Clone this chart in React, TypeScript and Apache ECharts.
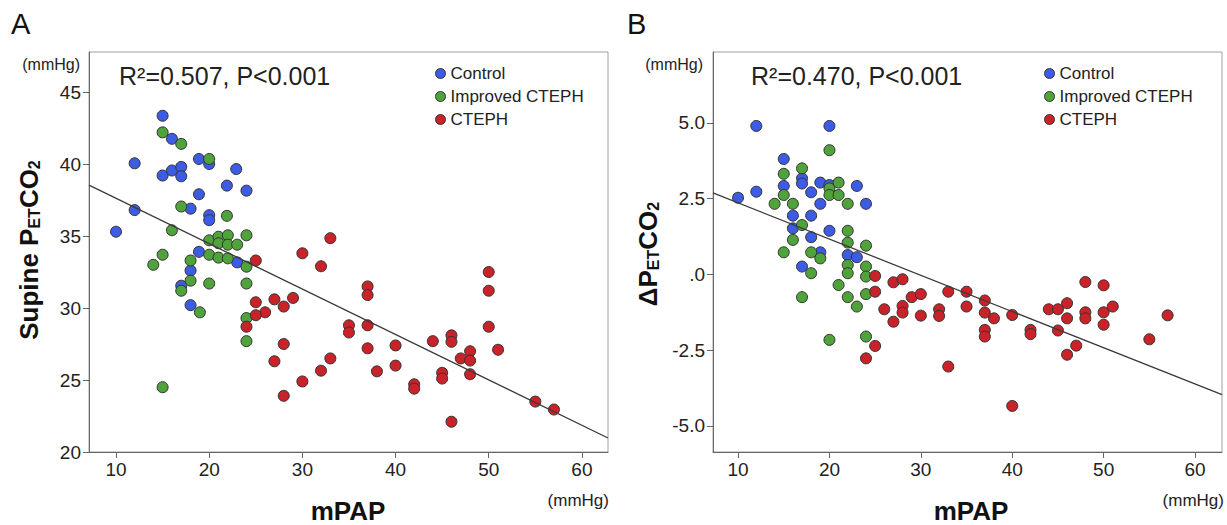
import { useEffect, useRef } from "react";
import * as echarts from "echarts";

const FONT = "'Liberation Sans', Arial, Helvetica, sans-serif";

// ---------- Panel A: Supine PETCO2 vs mPAP ----------
const controlA = [
  [15, 43.35], [16, 41.75], [12, 40.05], [18.9, 40.35], [20, 40.0], [22.9, 39.65],
  [15, 39.2], [16, 39.55], [17, 39.8], [17, 39.15], [21.9, 38.5], [24, 38.15],
  [18.9, 37.9], [18, 36.9], [12, 36.8], [20, 36.45], [20, 36.1], [10, 35.3],
  [18.9, 33.9], [23, 33.17], [18, 32.6], [17, 31.55], [18, 30.2],
];
const improvedA = [
  [15, 42.2], [17, 41.4], [20, 40.35], [17, 37.05], [21.9, 36.4], [16, 35.4],
  [24, 35.05], [20, 34.7], [21, 34.95], [22, 35.05], [21, 34.5], [22, 34.4],
  [23, 34.4], [15, 33.7], [14, 33.0], [18, 33.3], [20, 33.7], [21, 33.5],
  [22, 33.45], [24, 32.87], [18, 31.9], [17, 31.2], [20, 31.7], [24, 31.7],
  [19, 29.7], [24, 29.3], [24, 27.7], [15, 24.5],
];
const ctephA = [
  [33, 34.85], [25, 33.3], [30, 33.8], [32, 32.9], [37, 31.5], [37, 30.9],
  [25, 30.4], [27, 30.6], [29, 30.7], [28, 30.1], [26, 29.7], [25, 29.5],
  [24, 28.7], [35, 28.8], [35, 28.3], [37, 28.8], [37, 27.2], [28, 27.5],
  [27, 26.3], [33, 26.5], [32, 25.65], [38, 25.6], [30, 24.9], [28, 23.9],
  [50, 32.5], [50, 31.2], [50, 28.7], [40, 27.4], [40, 26.0], [42, 24.7],
  [42, 24.4], [44, 27.7], [46, 28.1], [46, 27.65], [45, 25.5], [45, 25.1],
  [47, 26.5], [48, 27.0], [48, 26.35], [48, 25.4], [51, 27.1], [46, 22.1],
  [55, 23.5], [57, 22.95],
];
const regA = [[7.1, 38.54], [62.8, 20.97]];

// ---------- Panel B: ΔPETCO2 vs mPAP ----------
const controlB = [
  [12, 4.9], [20, 4.9], [15, 3.81], [17, 3.17], [17, 3.0], [15, 2.92], [19, 3.03],
  [20, 2.95], [23, 2.92], [18, 2.71], [10, 2.53], [12, 2.73], [19, 2.33], [24, 2.33],
  [16, 1.94], [18, 1.94], [16, 1.52], [18, 1.23], [20, 1.44], [19, 0.73], [22, 0.64],
  [23, 0.57], [17, 0.26],
];
const improvedB = [
  [20, 4.1], [17, 3.5], [15, 3.32], [20, 2.84], [20, 2.62], [21, 3.03], [21, 2.62],
  [15, 2.62], [14, 2.33], [16, 2.33], [22, 2.33], [17, 1.63], [22, 1.44], [16, 1.14],
  [22, 1.05], [24, 0.95], [15, 0.73], [18, 0.73], [19, 0.53], [22, 0.31], [18, 0.04],
  [22, 0.04], [24, 0.26], [24, -0.07], [21, -0.35], [17, -0.75], [22, -0.75],
  [24, -0.65], [23, -1.06], [20, -2.16], [24, -2.05],
];
const ctephB = [
  [25, -0.05], [27, -0.26], [28, -0.16], [25, -0.57], [26, -1.15], [29, -0.75],
  [30, -0.65], [28, -1.04], [28, -1.26], [27, -1.56], [30, -1.36], [32, -1.15],
  [32, -1.37], [33, -0.57], [35, -0.57], [35, -1.06], [37, -0.86], [37, -1.26],
  [37, -1.83], [37, -2.05], [25, -2.36], [24, -2.77], [33, -3.04], [38, -1.45],
  [40, -1.34], [42, -1.83], [42, -1.97], [44, -1.15], [45, -1.15], [46, -0.95],
  [46, -1.45], [45, -1.85], [48, -0.25], [48, -1.25], [48, -1.45], [50, -0.36],
  [50, -1.25], [50, -1.66], [51, -1.06], [47, -2.35], [46, -2.65], [55, -2.14],
  [57, -1.35], [40, -4.34],
];
const regB = [[7.26, 2.69], [62.95, -3.97]];

// ---------- Ticks, labels ----------
const xTicks = [10, 20, 30, 40, 50, 60];
const yTicksA = [20, 25, 30, 35, 40, 45];
const yTicksB = [-5, -2.5, 0, 2.5, 5];
const groupNames = ["Control", "Improved CTEPH", "CTEPH"];
const statA = "R²=0.507, P<0.001";
const statB = "R²=0.470, P<0.001";

const COLORS = ["#3d5ce6", "#4fa33a", "#c92228"];

export default function App() {
  const ref = useRef<HTMLDivElement>(null);

  useEffect(() => {
    if (!ref.current) return;
    const chart = echarts.init(ref.current, null, { renderer: "svg" });

    const axisColor = "#666";
    const makeX = (gridIndex: number, min: number, max: number) => ({
      type: "value",
      gridIndex,
      min,
      max,
      axisLine: { show: true, onZero: false, lineStyle: { color: axisColor, width: 1 } },
      axisTick: { show: true, customValues: xTicks, length: 6, lineStyle: { color: axisColor } },
      axisLabel: { customValues: xTicks, fontSize: 19, color: "#222", margin: 8, fontFamily: FONT },
      splitLine: { show: false },
    });
    const makeY = (gridIndex: number, min: number, max: number, ticks: number[], fmt: (v: number) => string) => ({
      type: "value",
      gridIndex,
      min,
      max,
      axisLine: { show: true, onZero: false, lineStyle: { color: axisColor, width: 1 } },
      axisTick: { show: true, customValues: ticks, length: 6, lineStyle: { color: axisColor } },
      axisLabel: { customValues: ticks, fontSize: 19, color: "#222", margin: 8, fontFamily: FONT, formatter: fmt },
      splitLine: { show: false },
    });

    const scatter = (name: string, data: number[][], idx: number, color: string) => ({
      type: "scatter",
      name,
      data,
      xAxisIndex: idx,
      yAxisIndex: idx,
      symbol: "circle",
      symbolSize: 11,
      itemStyle: { color, borderColor: "#333", borderWidth: 1, opacity: 1 },
      z: 2,
    });
    const reg = (data: number[][], idx: number) => ({
      type: "line",
      data,
      xAxisIndex: idx,
      yAxisIndex: idx,
      symbol: "none",
      silent: true,
      lineStyle: { color: "#3a3a3a", width: 1.3 },
      z: 5,
    });

    const legendBase = {
      data: groupNames,
      orient: "vertical",
      top: 65,
      itemWidth: 10,
      itemHeight: 10,
      itemGap: 6,
      padding: 0,
      icon: "circle",
      selectedMode: false,
      itemStyle: { borderColor: "#333", borderWidth: 1 },
      textStyle: { fontSize: 17, color: "#222", fontFamily: FONT },
    };

    const txt = (text: string, x: number, y: number, opts: any = {}) => ({
      type: "text",
      x,
      y,
      silent: true,
      style: {
        text,
        fontFamily: FONT,
        fontSize: opts.fontSize ?? 17,
        fontWeight: opts.fontWeight ?? "normal",
        fill: opts.fill ?? "#222",
        align: opts.align ?? "left",
        verticalAlign: "middle",
      },
    });

    const titleRich = {
      m: { fontSize: 26, fontWeight: "bold", fontFamily: FONT, lineHeight: 26, verticalAlign: "bottom", fill: "#111" },
      s: { fontSize: 16, fontWeight: "bold", fontFamily: FONT, lineHeight: 8, verticalAlign: "bottom", fill: "#111" },
    };
    const yTitle = (text: string, x: number, y: number) => ({
      type: "text",
      x,
      y,
      rotation: Math.PI / 2,
      silent: true,
      style: {
        text,
        rich: titleRich,
        fill: "#111",
        align: "center",
        verticalAlign: "middle",
        fontFamily: FONT,
      },
    });

    chart.setOption({
      animation: false,
      backgroundColor: "#fff",
      grid: [
        { left: 89, top: 52, width: 519, height: 400, show: true, borderColor: "#a0a0a0", borderWidth: 1, backgroundColor: "transparent" },
        { left: 713, top: 52, width: 509, height: 400, show: true, borderColor: "#a0a0a0", borderWidth: 1, backgroundColor: "transparent" },
      ],
      xAxis: [makeX(0, 7.1, 62.8), makeX(1, 7.26, 62.95)],
      yAxis: [
        makeY(0, 20, 47.78, yTicksA, (v: number) => String(v)),
        makeY(1, -5.86, 7.34, yTicksB, (v: number) => (v === 0 ? ".0" : v.toFixed(1))),
      ],
      legend: [
        { ...legendBase, left: 435 },
        { ...legendBase, left: 1044 },
      ],
      series: [
        scatter(groupNames[0], controlA, 0, COLORS[0]),
        scatter(groupNames[1], improvedA, 0, COLORS[1]),
        scatter(groupNames[2], ctephA, 0, COLORS[2]),
        reg(regA, 0),
        scatter(groupNames[0], controlB, 1, COLORS[0]),
        scatter(groupNames[1], improvedB, 1, COLORS[1]),
        scatter(groupNames[2], ctephB, 1, COLORS[2]),
        reg(regB, 1),
      ],
      graphic: [
        txt("A", 11, 24, { fontSize: 29, fill: "#111" }),
        txt("B", 627, 24, { fontSize: 29, fill: "#111" }),
        txt(statA, 119, 76, { fontSize: 25 }),
        txt(statB, 751, 76, { fontSize: 25 }),
        txt("(mmHg)", 80, 64, { fontSize: 16, align: "right" }),
        txt("(mmHg)", 703, 64, { fontSize: 16, align: "right" }),
        txt("(mmHg)", 609, 500, { fontSize: 17, align: "right" }),
        txt("(mmHg)", 1224, 500, { fontSize: 17, align: "right" }),
        txt("mPAP", 348, 511, { fontSize: 26, fontWeight: "bold", align: "center", fill: "#111" }),
        txt("mPAP", 971, 511, { fontSize: 26, fontWeight: "bold", align: "center", fill: "#111" }),
        yTitle("{m|Supine P}{s|ET}{m|CO}{s|2}", 29, 250),
        yTitle("{m|ΔP}{s|ET}{m|CO}{s|2}", 648, 254),
      ],
    });

    return () => chart.dispose();
  }, []);

  return (
    <div
      ref={ref}
      style={{ position: "fixed", left: 0, top: 0, width: 1227, height: 525, background: "#fff" }}
    />
  );
}
